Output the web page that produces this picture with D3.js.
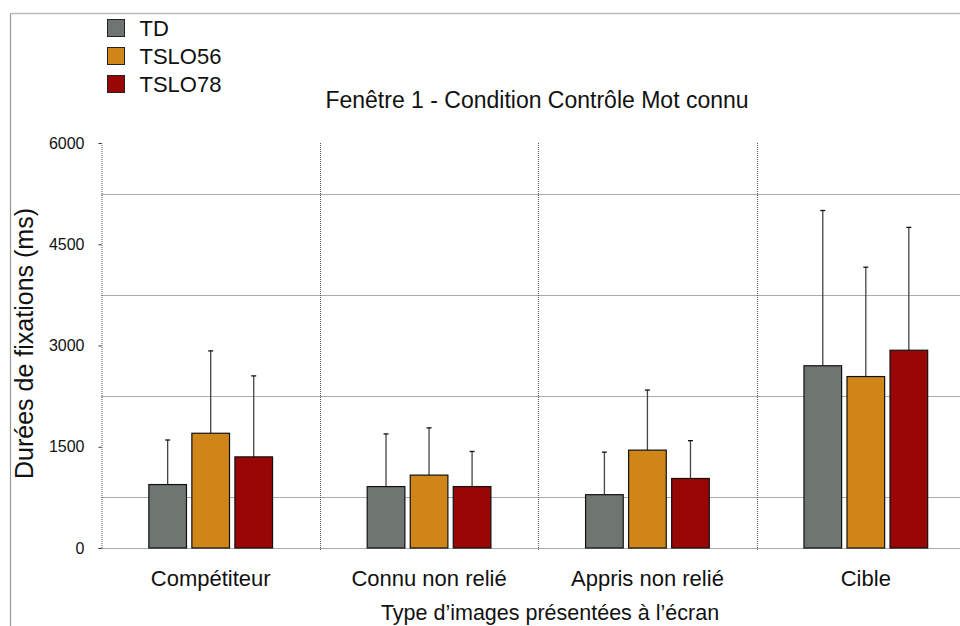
<!DOCTYPE html>
<html><head><meta charset="utf-8">
<script src="https://cdn.jsdelivr.net/npm/d3@7"></script>
<style>body{margin:0;background:#fff;}svg{display:block;font-family:"Liberation Sans",Arial,sans-serif;}</style>
</head><body>
<svg id="c" width="960" height="626"></svg>
<script>
const categories = ["Compétiteur", "Connu non relié", "Appris non relié", "Cible"];
const seriesNames = ["TD", "TSLO56", "TSLO78"];
const seriesColors = ["#6f7571", "#d08519", "#990606"];
const means = [
  [940, 910, 790, 2700],
  [1700, 1080, 1450, 2540],
  [1350, 910, 1030, 2930]
];
const errTops = [
  [1600, 1690, 1420, 5000],
  [2920, 1780, 2340, 4160],
  [2550, 1430, 1590, 4750]
];
const yTicks = [0, 1500, 3000, 4500, 6000];
const yGrid = [750, 2250, 3750, 5250];
const title = "Fenêtre 1 - Condition Contrôle Mot connu";
const yTitle = "Durées de fixations (ms)";
const xTitle = "Type d’images présentées à l’écran";

(function () {
const svg = d3.select("#c");
const pLeft = 101.5, pRight = 975, pTop = 143, pBottom = 548;
const x = d3.scaleBand().domain(categories).range([pLeft, pRight]);
const xs = d3.scaleBand().domain(seriesNames).range([0, x.bandwidth()]).paddingInner(0.125).paddingOuter(1.1);
const y = d3.scaleLinear().domain([0, 6000]).range([pBottom, pTop]);

// frame
svg.append("line").attr("x1", 10.5).attr("x2", 960).attr("y1", 13.5).attr("y2", 13.5).attr("stroke", "#bbb").attr("stroke-width", 1.5);
svg.append("line").attr("x1", 10.5).attr("x2", 10.5).attr("y1", 13.5).attr("y2", 626).attr("stroke", "#999").attr("stroke-width", 1.2);

// gridlines
const g = svg.append("g");
g.selectAll(".hg").data(yGrid.concat([0])).join("line")
  .attr("x1", pLeft).attr("x2", 960).attr("y1", d => Math.round(y(d)) + 0.5).attr("y2", d => Math.round(y(d)) + 0.5)
  .attr("stroke", "#555").attr("stroke-width", 1).attr("stroke-dasharray", "1,1");
g.selectAll(".vg").data(categories.slice(1)).join("line")
  .attr("x1", d => Math.round(x(d)) + 0.5).attr("x2", d => Math.round(x(d)) + 0.5)
  .attr("y1", pTop).attr("y2", pBottom + 3)
  .attr("stroke", "#555").attr("stroke-width", 1).attr("stroke-dasharray", "1,1");

// y axis
const ya = svg.append("g").attr("transform", `translate(${pLeft},0)`)
  .call(d3.axisLeft(y).tickValues(yTicks).tickSize(3).tickPadding(14).tickFormat(d3.format("d")));
ya.select(".domain").attr("stroke", "#555").attr("stroke-dasharray", "1,1");
ya.selectAll(".tick line").attr("stroke", "#333");
ya.selectAll("text").attr("font-size", 16).attr("fill", "#111").attr("font-family", "Liberation Sans, Arial, sans-serif");

// bars
const groups = svg.append("g").selectAll("g").data(seriesNames).join("g");
groups.each(function(s, si) {
  const sel = d3.select(this);
  categories.forEach((c, ci) => {
    const x0 = x(c) + xs(s), w = xs.bandwidth(), cx = x0 + w / 2;
    sel.append("line").attr("x1", cx).attr("x2", cx).attr("y1", y(means[si][ci])).attr("y2", y(errTops[si][ci]))
      .attr("stroke", "#444").attr("stroke-width", 1.3);
    sel.append("line").attr("x1", cx - 2.5).attr("x2", cx + 2.5).attr("y1", y(errTops[si][ci])).attr("y2", y(errTops[si][ci]))
      .attr("stroke", "#111").attr("stroke-width", 1.3);
    sel.append("rect").attr("x", x0).attr("width", w)
      .attr("y", y(means[si][ci])).attr("height", y(0) - y(means[si][ci]))
      .attr("fill", seriesColors[si]).attr("stroke", "#111").attr("stroke-width", 1.2);
  });
});

// x labels
svg.append("g").selectAll("text").data(categories).join("text")
  .attr("x", d => x(d) + x.bandwidth() / 2).attr("y", 586)
  .attr("text-anchor", "middle").attr("font-size", 22).attr("fill", "#111").text(d => d);

// titles
svg.append("text").attr("x", 537).attr("y", 108).attr("text-anchor", "middle").attr("font-size", 23).attr("fill", "#111").text(title);
svg.append("text").attr("x", 550).attr("y", 620).attr("text-anchor", "middle").attr("font-size", 21.5).attr("fill", "#111").text(xTitle);
svg.append("text").attr("transform", "translate(33,343.5) rotate(-90)").attr("text-anchor", "middle").attr("font-size", 25).attr("fill", "#111").text(yTitle);

// legend
const lg = svg.append("g").selectAll("g").data(seriesNames).join("g")
  .attr("transform", (d, i) => `translate(107.5,${19.5 + i * 28})`);
lg.append("rect").attr("width", 17).attr("height", 17).attr("fill", (d, i) => seriesColors[i]).attr("stroke", "#222").attr("stroke-width", 1);
lg.append("text").attr("x", 32).attr("y", 16.5).attr("font-size", 22).attr("fill", "#111").text(d => d);
})();
</script>
</body></html>
